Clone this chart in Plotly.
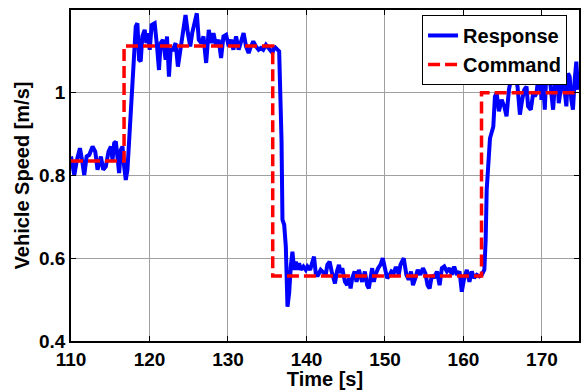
import plotly.graph_objects as go

# Measured vehicle speed response [s], [m/s]
time_s = [
    110.00, 110.42, 110.76, 111.14, 111.40, 111.69, 111.99, 112.33, 112.75, 113.09,
    113.38, 113.81, 114.10, 114.44, 114.78, 115.08, 115.29, 115.50, 115.71, 115.93,
    116.13, 116.35, 116.56, 116.77, 116.98, 117.19, 117.40, 117.70, 118.00, 118.25,
    118.46, 118.67, 118.88, 119.09, 119.39, 119.60, 119.81, 120.03, 120.28, 120.66,
    120.96, 121.21, 121.42, 121.71, 122.06, 122.23, 122.48, 122.69, 122.99, 123.33,
    123.62, 123.92, 124.25, 124.59, 124.89, 125.19, 125.44, 125.74, 126.03, 126.28,
    126.59, 126.88, 127.22, 127.55, 127.86, 128.15, 128.49, 128.82, 129.12, 129.42,
    129.76, 130.09, 130.39, 130.69, 131.03, 131.36, 131.66, 131.99, 132.30, 132.63,
    132.93, 133.22, 133.57, 133.90, 134.20, 134.49, 134.84, 135.25, 135.67, 135.89,
    136.31, 136.52, 136.82, 136.94, 137.16, 137.37, 137.58, 137.79, 138.00, 138.21,
    138.43, 138.64, 138.85, 139.06, 139.27, 139.61, 139.91, 140.12, 140.46, 140.75,
    140.96, 141.18, 141.39, 141.81, 142.15, 142.45, 142.66, 142.95, 143.21, 143.38,
    143.63, 143.88, 144.14, 144.35, 144.56, 144.90, 145.19, 145.41, 145.62, 145.83,
    146.13, 146.38, 146.68, 146.89, 147.10, 147.44, 147.73, 147.94, 148.16, 148.37,
    148.58, 148.79, 149.13, 149.42, 149.72, 149.97, 150.27, 150.48, 150.82, 151.12,
    151.33, 151.54, 151.75, 151.97, 152.39, 152.73, 153.02, 153.32, 153.57, 153.87,
    154.17, 154.50, 154.84, 155.14, 155.43, 155.69, 155.98, 156.28, 156.62, 156.96,
    157.25, 157.55, 157.89, 158.23, 158.52, 158.82, 159.16, 159.50, 159.79, 160.09,
    160.43, 160.76, 161.06, 161.36, 161.70, 162.03, 162.33, 162.66, 162.83, 162.96,
    163.17, 163.38, 163.80, 164.01, 164.23, 164.52, 164.86, 165.20, 165.49, 165.79,
    166.04, 166.34, 166.55, 166.89, 167.19, 167.48, 167.74, 168.03, 168.24, 168.58,
    168.88, 169.09, 169.30, 169.60, 169.72, 169.94, 170.15, 170.36, 170.57, 170.78,
    170.99, 171.21, 171.42, 171.71, 171.97, 172.14, 172.39, 172.60, 172.81, 173.11,
    173.32, 173.53, 173.74, 173.95, 174.17, 174.38, 174.59,
]
response_mps = [
    0.846, 0.801, 0.838, 0.866, 0.838, 0.801, 0.846, 0.850, 0.870, 0.858,
    0.814, 0.846, 0.814, 0.822, 0.858, 0.870, 0.838, 0.878, 0.882, 0.838,
    0.806, 0.862, 0.870, 0.822, 0.789, 0.814, 0.886, 0.983, 1.104, 1.160,
    1.168, 1.080, 1.076, 1.136, 1.152, 1.120, 1.144, 1.104, 1.164, 1.168,
    1.112, 1.055, 1.120, 1.128, 1.080, 1.136, 1.039, 1.104, 1.104, 1.120,
    1.063, 1.104, 1.136, 1.188, 1.144, 1.112, 1.144, 1.168, 1.192, 1.128,
    1.120, 1.136, 1.072, 1.152, 1.120, 1.144, 1.112, 1.128, 1.084, 1.136,
    1.140, 1.112, 1.128, 1.104, 1.136, 1.104, 1.120, 1.144, 1.112, 1.096,
    1.112, 1.124, 1.112, 1.104, 1.108, 1.104, 1.116, 1.104, 1.096, 1.112,
    1.106, 1.100, 0.886, 0.693, 0.681, 0.628, 0.483, 0.515, 0.580, 0.616,
    0.572, 0.592, 0.572, 0.588, 0.572, 0.580, 0.572, 0.580, 0.572, 0.588,
    0.604, 0.564, 0.556, 0.572, 0.564, 0.560, 0.584, 0.592, 0.568, 0.552,
    0.539, 0.568, 0.584, 0.564, 0.576, 0.543, 0.535, 0.552, 0.527, 0.552,
    0.568, 0.543, 0.572, 0.556, 0.543, 0.568, 0.535, 0.527, 0.552, 0.576,
    0.543, 0.560, 0.576, 0.584, 0.600, 0.576, 0.552, 0.556, 0.568, 0.564,
    0.576, 0.576, 0.560, 0.584, 0.600, 0.560, 0.548, 0.568, 0.535, 0.552,
    0.572, 0.560, 0.576, 0.564, 0.535, 0.527, 0.560, 0.552, 0.568, 0.535,
    0.576, 0.580, 0.568, 0.576, 0.560, 0.580, 0.560, 0.568, 0.519, 0.552,
    0.572, 0.543, 0.568, 0.552, 0.560, 0.556, 0.560, 0.572, 0.644, 0.765,
    0.830, 0.890, 0.918, 0.991, 0.999, 0.955, 0.983, 0.967, 0.943, 1.007,
    1.031, 1.039, 1.043, 1.015, 0.947, 0.983, 1.007, 1.015, 0.967, 0.959,
    0.999, 0.991, 0.999, 1.047, 1.063, 0.983, 1.031, 0.959, 1.055, 1.071,
    1.031, 0.991, 0.959, 1.039, 1.047, 0.975, 1.007, 1.055, 1.015, 0.967,
    1.047, 1.039, 0.983, 0.959, 1.031, 1.075, 1.007,
]

# Speed command: level held from each switching time
command_time_s = [110.0, 116.76, 135.7, 162.3, 175.0]
command_mps = [0.835, 1.113, 0.557, 1.0, 1.0]

x_ticks = [110, 120, 130, 140, 150, 160, 170]
y_ticks = [0.4, 0.6, 0.8, 1.0]
y_tick_text = ["0.4", "0.6", "0.8", "1"]

FONT = "Liberation Sans, Arial, Helvetica, sans-serif"

fig = go.Figure()
fig.add_trace(go.Scatter(
    x=time_s, y=response_mps, mode="lines", name="Response",
    line=dict(color="#0000ff", width=4),
))
fig.add_trace(go.Scatter(
    x=command_time_s, y=command_mps, mode="lines", name="Command",
    line=dict(color="#ff0000", width=3.5, dash="12px,5px", shape="hv"),
))

axis_common = dict(
    showline=True, linecolor="black", linewidth=1.5, mirror="ticks",
    ticks="inside", ticklen=5, tickwidth=1.2, tickcolor="black",
    showgrid=True, gridcolor="rgb(160,160,160)", gridwidth=0.8,
    zeroline=False,
    tickfont=dict(family=FONT, size=19, color="black", weight="bold"),
)

fig.update_layout(
    width=581, height=390,
    margin=dict(l=71, r=0, t=10, b=49),
    paper_bgcolor="white", plot_bgcolor="white",
    showlegend=True,
    legend=dict(
        x=0.9765, xanchor="right", y=0.985, yanchor="top",
        bgcolor="white", bordercolor="black", borderwidth=1,
        font=dict(family=FONT, size=20, color="black", weight="bold"),
        tracegroupgap=0,
    ),
    xaxis=dict(
        range=[110, 174.72], tickvals=x_ticks,
        title=dict(text="Time [s]", standoff=2,
                   font=dict(family=FONT, size=20, color="black", weight="bold")),
        **axis_common,
    ),
    yaxis=dict(
        range=[0.4, 1.2], tickvals=y_ticks, ticktext=y_tick_text,
        title=dict(text="Vehicle Speed [m/s]", standoff=4,
                   font=dict(family=FONT, size=20, color="black", weight="bold")),
        **axis_common,
    ),
)

fig.write_html("out.html")
